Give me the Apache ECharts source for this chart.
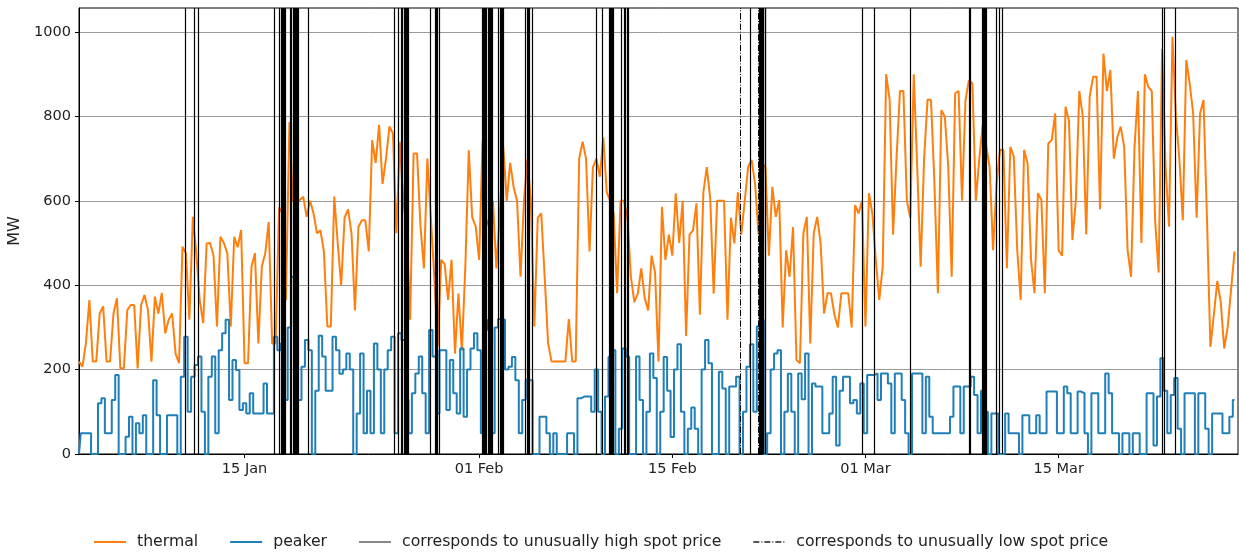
<!DOCTYPE html>
<html>
<head>
<meta charset="utf-8">
<script src="https://cdn.jsdelivr.net/npm/echarts@6/dist/echarts.min.js"></script>
<style>
  html, body { margin: 0; padding: 0; background: #fff; }
  #chart { width: 1239px; height: 552px; }
</style>
</head>
<body>
<div id="chart"></div>
<script>
// one value every 6 hours, starting 3 Jan 2021 00:00
var startDate = '2021-01-03 00:00';
var stepHours = 6;

var thermal = [
  219, 207, 262, 365, 219, 219, 333, 350, 219, 219,
  333, 369, 203, 203, 341, 353, 353, 203, 353, 377,
  341, 219, 373, 333, 382, 286, 318, 333, 238, 215,
  491, 476, 318, 562, 476, 365, 310, 499, 500, 470,
  302, 515, 500, 476, 302, 515, 490, 531, 215, 215,
  444, 476, 262, 444, 476, 550, 262, 262, 584, 570,
  365, 787, 600, 595, 602, 610, 562, 600, 570, 523,
  530, 480, 302, 302, 610, 500, 400, 560, 580, 523,
  340, 538, 554, 554, 480, 744, 690, 780, 640, 700,
  776, 760, 523, 740, 602, 530, 318, 712, 712, 540,
  440, 700, 560, 420, 254, 460, 450, 365, 460, 238,
  380, 245, 444, 720, 560, 540, 460, 740, 540, 560,
  600, 440, 570, 728, 600, 690, 633, 600, 420, 600,
  700, 600, 302, 560, 570, 420, 262, 219, 219, 219,
  219, 219, 320, 219, 219, 700, 740, 700, 480, 680,
  700, 657, 750, 620, 600, 570, 381, 600, 600, 560,
  420, 360, 380, 440, 370, 340, 470, 430, 219, 586,
  460, 520, 470, 618, 500, 600, 280, 520, 530, 594,
  330, 620, 680, 605, 380, 600, 600, 600, 318, 560,
  499, 620, 520, 600, 681, 697, 640, 520, 689, 680,
  470, 633, 562, 602, 300, 483, 420, 538, 223, 215,
  523, 562, 262, 523, 562, 499, 333, 381, 381, 330,
  300, 381, 381, 381, 300, 590, 570, 600, 302, 618,
  570, 460, 365, 444, 900, 840, 520, 700, 860, 860,
  600, 560, 900, 681, 444, 700, 840, 839, 640, 381,
  815, 800, 681, 420, 855, 860, 600, 839, 886, 878,
  600, 700, 780, 730, 680, 483, 640, 721, 720, 440,
  728, 705, 483, 365, 721, 689, 460, 381, 618, 602,
  381, 736, 744, 807, 483, 470, 823, 790, 507, 602,
  860, 800, 520, 847, 894, 894, 580, 949, 860, 910,
  700, 750, 776, 728, 483, 420, 728, 860, 500, 900,
  870, 860, 550, 430, 960, 681, 539, 989, 800, 700,
  554, 934, 878, 807, 560, 807, 839, 560, 254, 330,
  410, 360, 250, 300, 390, 480
];

var peaker = [
  0, 49, 49, 49, 0, 0, 120, 132, 49, 49,
  128, 187, 0, 0, 41, 88, 0, 73, 49, 92,
  0, 0, 175, 92, 0, 0, 92, 92, 92, 0,
  183, 278, 100, 183, 211, 231, 100, 0, 183, 231,
  49, 246, 286, 318, 128, 223, 199, 104, 120, 96,
  144, 96, 96, 96, 167, 96, 96, 278, 246, 262,
  128, 300, 420, 238, 128, 207, 270, 246, 0, 150,
  280, 231, 150, 150, 278, 246, 190, 200, 238, 200,
  0, 96, 238, 49, 150, 49, 262, 200, 49, 200,
  246, 278, 49, 286, 270, 128, 49, 144, 191, 231,
  144, 49, 294, 231, 96, 246, 246, 104, 223, 144,
  96, 250, 88, 200, 250, 286, 246, 49, 295, 318,
  49, 300, 320, 318, 200, 207, 230, 175, 49, 128,
  175, 175, 0, 0, 88, 88, 49, 0, 49, 0,
  0, 0, 49, 49, 0, 132, 136, 136, 136, 100,
  200, 100, 0, 136, 230, 246, 0, 60, 250, 231,
  0, 0, 231, 128, 0, 100, 238, 180, 0, 100,
  230, 150, 40, 200, 260, 100, 0, 60, 110, 60,
  0, 200, 270, 215, 0, 0, 195, 155, 0, 160,
  160, 183, 0, 100, 207, 260, 100, 302, 318, 0,
  49, 200, 238, 246, 0, 100, 190, 100, 0, 191,
  130, 238, 0, 167, 160, 160, 49, 49, 96, 183,
  20, 150, 183, 183, 120, 128, 96, 167, 49, 187,
  187, 191, 128, 191, 191, 167, 49, 191, 191, 128,
  49, 0, 191, 191, 191, 49, 183, 88, 49, 49,
  49, 49, 49, 88, 160, 160, 49, 160, 160, 183,
  140, 49, 150, 100, 0, 96, 96, 0, 0, 96,
  49, 49, 49, 0, 92, 92, 49, 49, 92, 49,
  49, 148, 148, 148, 49, 49, 160, 144, 49, 49,
  148, 144, 49, 0, 144, 144, 49, 49, 191, 144,
  49, 49, 0, 49, 49, 0, 49, 49, 0, 0,
  144, 144, 20, 136, 227, 150, 49, 140, 180, 60,
  0, 144, 144, 144, 0, 144, 144, 60, 0, 96,
  96, 96, 49, 49, 88, 128
];

var highPriceTimes = [
  '2021-01-10 16:00', '2021-01-11 09:00', '2021-01-11 16:00',
  '2021-01-17 04:00', '2021-01-17 13:00', '2021-01-17 15:00', '2021-01-17 17:00',
  '2021-01-17 19:00', '2021-01-17 21:00', '2021-01-17 23:00',
  '2021-01-18 08:00', '2021-01-18 10:00', '2021-01-18 12:00', '2021-01-18 14:00',
  '2021-01-18 16:00', '2021-01-18 18:00', '2021-01-18 20:00', '2021-01-18 21:00',
  '2021-01-19 15:00',
  '2021-01-25 20:00', '2021-01-26 03:00', '2021-01-26 09:00', '2021-01-26 11:00',
  '2021-01-26 13:00', '2021-01-26 15:00', '2021-01-26 17:00', '2021-01-26 19:00',
  '2021-01-26 21:00',
  '2021-01-28 11:00', '2021-01-28 20:00', '2021-01-28 22:00', '2021-01-29 00:00',
  '2021-01-29 02:00',
  '2021-02-01 05:00', '2021-02-01 07:00', '2021-02-01 09:00', '2021-02-01 11:00',
  '2021-02-01 13:00', '2021-02-01 15:00', '2021-02-01 17:00', '2021-02-01 19:00',
  '2021-02-01 21:00', '2021-02-01 22:00',
  '2021-02-02 10:00', '2021-02-02 12:00', '2021-02-02 14:00', '2021-02-02 16:00',
  '2021-02-02 18:00',
  '2021-02-04 09:00', '2021-02-04 11:00', '2021-02-04 13:00', '2021-02-04 15:00',
  '2021-02-04 20:00',
  '2021-02-09 11:00', '2021-02-09 22:00',
  '2021-02-10 10:00', '2021-02-10 12:00', '2021-02-10 14:00', '2021-02-10 16:00',
  '2021-02-10 18:00',
  '2021-02-11 07:00', '2021-02-11 13:00', '2021-02-11 15:00', '2021-02-11 17:00',
  '2021-02-11 19:00',
  '2021-02-20 16:00',
  '2021-02-21 07:00', '2021-02-21 09:00', '2021-02-21 11:00', '2021-02-21 13:00',
  '2021-02-21 15:00', '2021-02-21 17:00', '2021-02-21 18:00',
  '2021-02-28 18:00', '2021-03-01 15:00', '2021-03-04 06:00',
  '2021-03-08 13:00', '2021-03-08 14:00',
  '2021-03-09 11:00', '2021-03-09 13:00', '2021-03-09 15:00', '2021-03-09 17:00',
  '2021-03-09 18:00',
  '2021-03-10 11:00', '2021-03-10 17:00', '2021-03-10 22:00',
  '2021-03-22 13:00', '2021-03-22 15:00', '2021-03-23 11:00'
];

var lowPriceTimes = ['2021-02-19 23:00', '2021-02-21 06:00'];

var tickDates = ['2021-01-15', '2021-02-01', '2021-02-15', '2021-03-01', '2021-03-15'];
var yTicks = [0, 200, 400, 600, 800, 1000];
var xStart = '2021-01-03';
var xEnd = '2021-03-28';

var monthNames = ['Jan', 'Feb', 'Mar', 'Apr', 'May', 'Jun', 'Jul', 'Aug', 'Sep', 'Oct', 'Nov', 'Dec'];

// local-time parser for 'YYYY-MM-DD' or 'YYYY-MM-DD HH:mm'
function toTime(s) {
  var parts = s.split(' ');
  var d = parts[0].split('-');
  var h = parts[1] ? parts[1].split(':') : ['0', '0'];
  return new Date(+d[0], +d[1] - 1, +d[2], +h[0], +h[1]).getTime();
}

var t0 = toTime(startDate);
function seriesData(values) {
  return values.map(function (v, i) {
    return [t0 + i * stepHours * 3600 * 1000, v];
  });
}

var tickValues = tickDates.map(toTime);

var chart = echarts.init(document.getElementById('chart'), null, { renderer: 'canvas' });

chart.setOption({
  animation: false,
  textStyle: { fontFamily: 'DejaVu Sans' },
  grid: {
    left: 79, right: 1, top: 8, bottom: 98,
    outerBoundsMode: 'none',
    containLabel: false,
    show: true, borderColor: '#000', borderWidth: 1, backgroundColor: 'transparent'
  },
  legend: {
    left: 93, bottom: 2, padding: 0,
    itemWidth: 32, itemHeight: 14, itemGap: 31,
    itemStyle: { opacity: 0 },
    textStyle: { fontSize: 15.7, color: '#222', padding: [0, 0, 0, 6] },
    data: [
      'thermal', 'peaker',
      'corresponds to unusually high spot price',
      'corresponds to unusually low spot price'
    ]
  },
  xAxis: {
    // timestamps on a plain value axis so the date ticks can be placed exactly
    type: 'value',
    min: toTime(xStart),
    max: toTime(xEnd),
    axisLine: { show: true, lineStyle: { color: '#000' } },
    axisTick: { show: true, length: 4, lineStyle: { color: '#000' }, customValues: tickValues },
    axisLabel: {
      fontSize: 14.5, color: '#222', margin: 8,
      customValues: tickValues,
      formatter: function (v) {
        var d = new Date(v);
        var dd = d.getDate();
        return (dd < 10 ? '0' + dd : dd) + ' ' + monthNames[d.getMonth()];
      }
    },
    splitLine: { show: false }
  },
  yAxis: {
    type: 'value',
    min: 0, max: 1057, interval: 200,
    name: 'MW',
    nameLocation: 'middle',
    nameGap: 56,
    nameRotate: 90,
    nameTextStyle: { fontSize: 16, color: '#222' },
    axisLine: { show: true, lineStyle: { color: '#000' } },
    axisTick: { show: true, length: 4, lineStyle: { color: '#000' }, customValues: yTicks },
    axisLabel: {
      fontSize: 14.5, color: '#222', margin: 8,
      customValues: yTicks,
      formatter: function (v) { return String(v); }
    },
    splitLine: { show: true, lineStyle: { color: '#9a9a9a', width: 1 } }
  },
  series: [
    {
      name: 'thermal',
      type: 'line',
      data: seriesData(thermal),
      symbol: 'none',
      color: '#ff7f0e',
      lineStyle: { width: 2, color: '#ff7f0e' },
      z: 2
    },
    {
      name: 'peaker',
      type: 'line',
      step: 'middle',
      data: seriesData(peaker),
      symbol: 'none',
      color: '#1f7fb6',
      lineStyle: { width: 2, color: '#1f7fb6' },
      z: 3
    },
    {
      name: 'corresponds to unusually high spot price',
      type: 'line',
      data: [],
      symbol: 'none',
      color: '#888',
      lineStyle: { width: 1.2, color: '#888' },
      z: 5,
      markLine: {
        silent: true,
        symbol: 'none',
        animation: false,
        label: { show: false },
        lineStyle: { color: '#000', width: 1.2, type: 'solid' },
        emphasis: { disabled: true },
        data: highPriceTimes.map(function (s) { return { xAxis: toTime(s) }; })
      }
    },
    {
      name: 'corresponds to unusually low spot price',
      type: 'line',
      data: [],
      symbol: 'none',
      color: '#555',
      lineStyle: { width: 1, color: '#555', type: [6, 2, 1, 2] },
      z: 5,
      markLine: {
        silent: true,
        symbol: 'none',
        animation: false,
        label: { show: false },
        lineStyle: { color: '#000', width: 1, type: [6.4, 1.6, 1, 1.6] },
        emphasis: { disabled: true },
        data: lowPriceTimes.map(function (s) { return { xAxis: toTime(s) }; })
      }
    }
  ]
});
</script>
</body>
</html>
